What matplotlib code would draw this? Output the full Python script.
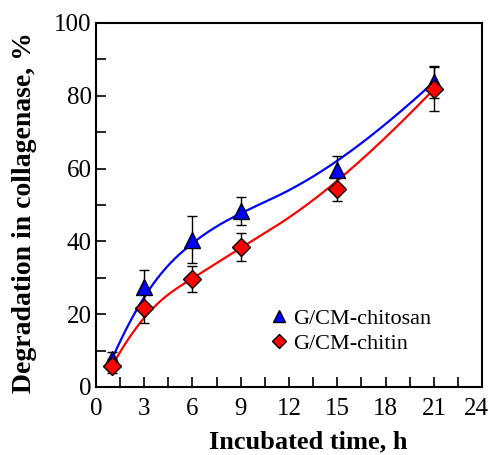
import numpy as np
import matplotlib
matplotlib.use("Agg")
import matplotlib.pyplot as plt
from matplotlib.transforms import ScaledTranslation

time_h = [1, 3, 6, 9, 15, 21]
chitosan = [7.7, 27.6, 40.5, 48.3, 59.5, 83.8]
chitosan_err = [2.0, 4.5, 6.4, 3.9, 4.0, 4.3]
chitin = [5.8, 21.7, 29.7, 38.4, 54.3, 81.8]
chitin_err = [2.0, 4.2, 3.6, 3.9, 3.3, 6.0]
labels = ["G/CM-chitosan", "G/CM-chitin"]
xticks = [0, 3, 6, 9, 12, 15, 18, 21, 24]
yticks = [0, 20, 40, 60, 80, 100]


def bspline_curve(x, y, npts=400, k=3):
    """Clamped cubic B-spline using the data points as control points."""
    P = np.column_stack([x, y]).astype(float)
    n = len(P)
    inner = np.linspace(0, 1, n - k + 1)[1:-1]
    knots = np.concatenate([np.zeros(k + 1), inner, np.ones(k + 1)])
    us = np.linspace(0, 1, npts)
    out = np.zeros((npts, 2))
    for j, u in enumerate(us):
        if u >= 1.0:
            out[j] = P[-1]
            continue
        s = np.searchsorted(knots, u, side="right") - 1
        d = [P[s - k + i].copy() for i in range(k + 1)]
        for r in range(1, k + 1):
            for i in range(k, r - 1, -1):
                idx = s - k + i
                a = (u - knots[idx]) / (knots[idx + k + 1 - r] - knots[idx])
                d[i] = (1 - a) * d[i - 1] + a * d[i]
        out[j] = d[k]
    return out[:, 0], out[:, 1]


plt.rcParams["font.family"] = ["Liberation Serif", "DejaVu Serif"]
fig = plt.figure(figsize=(4.92, 4.55), dpi=100)
ax = fig.add_axes([0.195, 0.1495, 0.785, 0.8])

bx, by = bspline_curve(time_h, chitosan)
ax.plot(bx, by, color="#0000ff", lw=1.6, zorder=2)
rx, ry = bspline_curve(time_h, chitin)
ax.plot(rx, ry, color="#ff0000", lw=1.6, zorder=2)

ax.errorbar(time_h, chitosan, yerr=chitosan_err, fmt="none", ecolor="black",
            elinewidth=1.0, capsize=3.5, capthick=1.0, zorder=3)
ax.errorbar(time_h, chitin, yerr=chitin_err, fmt="none", ecolor="black",
            elinewidth=1.0, capsize=3.5, capthick=1.0, zorder=3)

h1, = ax.plot(time_h, chitosan, ls="none", marker="^", ms=12, mfc="#0000ff",
              mec="black", mew=1.0, zorder=4, label=labels[0])
h2, = ax.plot(time_h, chitin, ls="none", marker="D", ms=9, mfc="#ff0000",
              mec="black", mew=1.0, zorder=5, label=labels[1])

ax.set_xlim(0, 24)
ax.set_ylim(0, 100)
ax.set_xticks(xticks)
ax.set_yticks(yticks)
ax.set_xticks(np.arange(0, 24.1, 1.5), minor=True)
ax.set_yticks(np.arange(0, 100.1, 10), minor=True)
ax.tick_params(which="both", direction="in", length=7, width=1.2,
               top=False, right=False, labelsize=18)
ax.tick_params(axis="x", pad=8)
ax.tick_params(axis="y", pad=3)
for s in ax.spines.values():
    s.set_linewidth(1.5)

last = ax.get_xticklabels()[-1]
last.set_transform(last.get_transform() + ScaledTranslation(-6 / 100, 0, fig.dpi_scale_trans))

ax.set_xlabel("Incubated time, h", fontsize=19, fontweight="bold")
ax.xaxis.set_label_coords(0.55, -0.118)
ax.set_ylabel("Degradation in collagenase, %", fontsize=20, fontweight="bold")
ax.yaxis.set_label_coords(-0.152, 0.48)

leg = ax.legend(handles=[h1, h2], loc="lower left", bbox_to_anchor=(0.40, 0.035),
                frameon=False, fontsize=16, markerscale=0.75, handlelength=0.8,
                handletextpad=0.2, labelspacing=0.2)

fig.savefig("out.png", dpi=100)
